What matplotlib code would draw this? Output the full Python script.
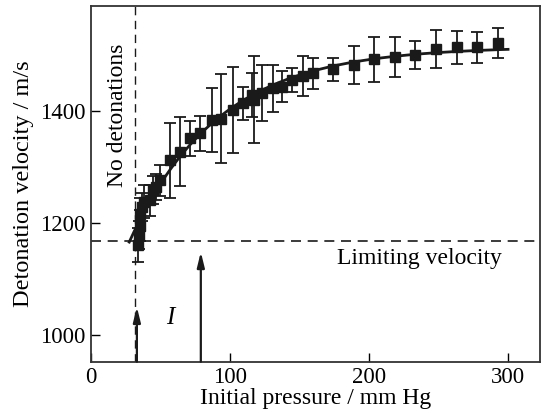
import numpy as np
import matplotlib
matplotlib.use("Agg")
import matplotlib.pyplot as plt

plt.rcParams['font.family'] = ['Liberation Serif', 'DejaVu Serif']

# measured points: initial pressure (mm Hg), detonation velocity (m/s), error (m/s)
pressure = [34.0, 34.8, 35.5, 35.3, 36.5, 38.0, 42.4, 44.8, 47.0, 49.6,
            56.8, 64.0, 71.2, 78.4, 86.8, 93.5, 101.9, 109.1, 115.5, 117.0,
            123.0, 130.9, 137.2, 144.4, 152.3, 160.0, 174.3, 189.2, 203.8,
            218.7, 233.0, 248.2, 263.0, 277.5, 292.6]
velocity = [1160, 1178, 1195, 1215, 1228, 1238, 1240, 1258, 1264, 1276,
            1312, 1327, 1351, 1360, 1383, 1386, 1401, 1413, 1428, 1420,
            1431, 1440, 1443, 1455, 1462, 1467, 1474, 1482, 1492,
            1496, 1500, 1511, 1513, 1513, 1521]
error = [30, 25, 28, 30, 25, 30, 28, 25, 24, 28,
         67, 61, 31, 31, 57, 80, 77, 30, 39, 77,
         50, 42, 28, 22, 36, 28, 21, 34, 40,
         35, 25, 34, 29, 27, 27]

limit_velocity = 1167
no_det_pressure = 32
arrow_pressures = [33, 79]
arrow_tops = [1050, 1148]

# least-squares fit v = a - b*exp(-p/tau)
p = np.array(pressure)
v = np.array(velocity)
best = None
for tau in np.arange(20, 150, 0.5):
    A = np.column_stack([np.ones_like(p), -np.exp(-p / tau)])
    coef, res, _, _ = np.linalg.lstsq(A, v, rcond=None)
    r = np.sum((A @ coef - v) ** 2)
    if best is None or r < best[0]:
        best = (r, tau, coef)
_, tau, (a, b) = best
p_fit = np.linspace(27.5, 300, 300)
v_fit = a - b * np.exp(-p_fit / tau)

fig = plt.figure(figsize=(5.43, 4.15), dpi=100)
ax = fig.add_axes([0.1676, 0.1284, 0.8269, 0.8571])

ax.plot(p_fit, v_fit, color='#1a1a1a', lw=2.0, zorder=3)
ax.errorbar(pressure, velocity, yerr=error, fmt='s', color='#1a1a1a',
            ms=6.5, ecolor='#1a1a1a', elinewidth=1.3, capsize=4.5,
            capthick=1.3, zorder=4)

ax.axhline(limit_velocity, color='#1a1a1a', lw=1.2, ls=(0, (6, 4)))
ax.axvline(no_det_pressure, color='#1a1a1a', lw=1.0, ls=(0, (6, 4)))

for xp, yt in zip(arrow_pressures, arrow_tops):
    ax.annotate('', xy=(xp, yt), xytext=(xp, 952),
                arrowprops=dict(arrowstyle='-|>,head_length=0.9,head_width=0.22',
                                color='#1a1a1a', lw=1.6, shrinkA=0, shrinkB=0))

ax.text(19.0, 1392, 'No detonations', rotation=90, ha='center', va='center',
        fontsize=17)
ax.text(236, 1137, 'Limiting velocity', ha='center', va='center', fontsize=17)
ax.text(57, 1030, 'I', ha='center', va='center', fontsize=18, style='italic')

ax.set_xlim(0, 323)
ax.set_ylim(952, 1587)
ax.set_xticks([0, 100, 200, 300])
ax.set_yticks([1000, 1200, 1400])
ax.tick_params(direction='in', length=6.5, width=1.0, labelsize=16.5, pad=4)
for s in ax.spines.values():
    s.set_linewidth(1.3)
    s.set_color('#333333')
ax.set_xlabel('Initial pressure / mm Hg', fontsize=17, labelpad=0)
ax.set_ylabel('Detonation velocity / m/s', fontsize=17.5, labelpad=4)

fig.savefig('out.png', dpi=100)
